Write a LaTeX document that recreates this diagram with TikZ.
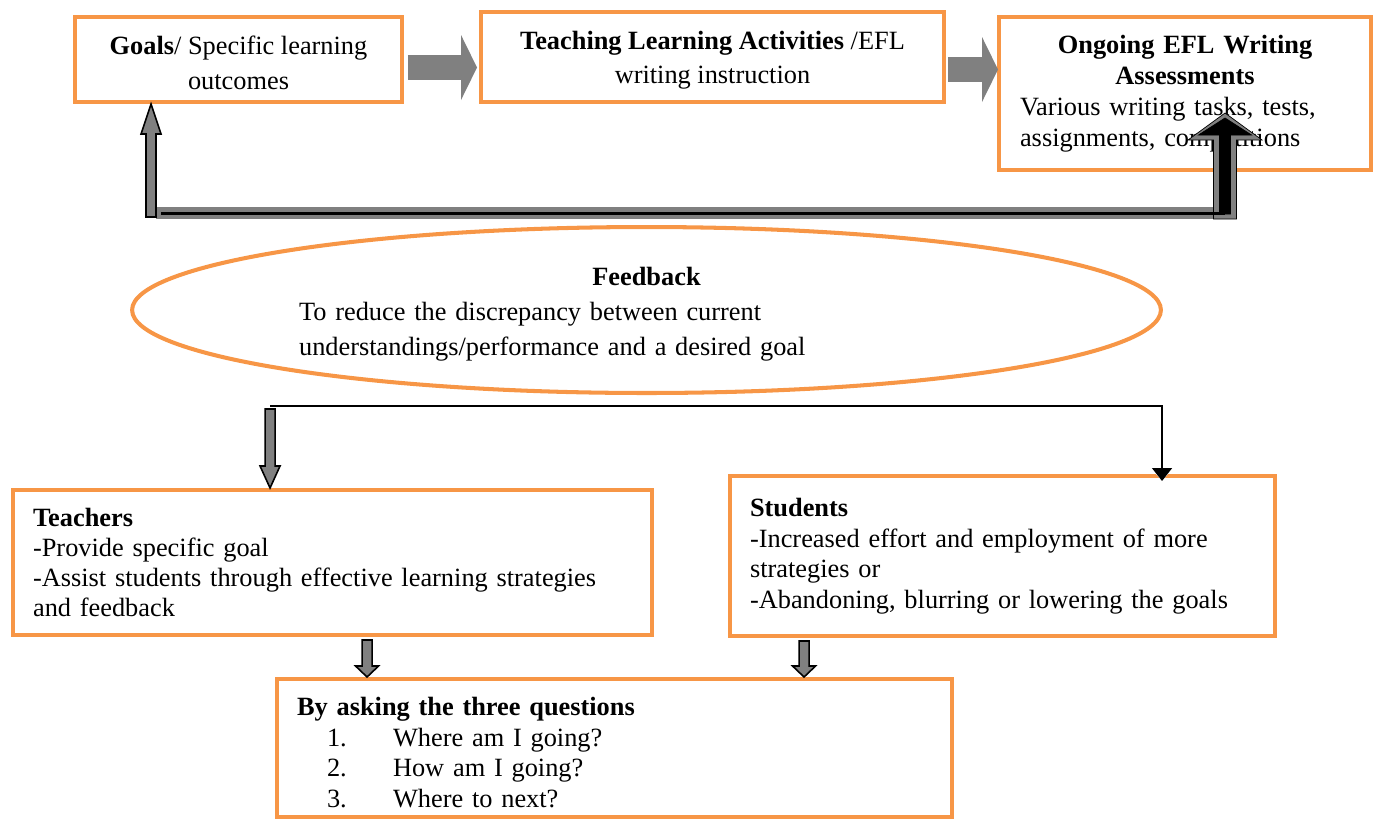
\documentclass[tikz,border=0pt]{standalone}
\usepackage{fontspec}
\setmainfont{Liberation Serif}
\usetikzlibrary{arrows.meta,calc,shapes.geometric}
\definecolor{BoxOrange}{RGB}{247,150,70}
\definecolor{ArrowGray}{RGB}{128,128,128}

\newcommand{\blockarrow}[6]{%
  \draw[#1] ($(#2)+(-#4,0)$) -- ($(#3)+(-#4,{-1*(#6)})$) -- ($(#3)+(-#5,{-1*(#6)})$) -- (#3)
    -- ($(#3)+(#5,{-1*(#6)})$) -- ($(#3)+(#4,{-1*(#6)})$) -- ($(#2)+(#4,0)$) -- cycle;}
\newcommand{\qitem}[2]{\hspace*{0.6cm}\makebox[1.32cm][l]{#1}#2}

\begin{document}
\begin{tikzpicture}[x=0.02cm, y=-0.02cm, font=\fontsize{15pt}{17pt}\selectfont,
    stagebox/.style={draw=BoxOrange, line width=2.3pt, fill=white, inner sep=0pt},
    flowarrow/.style={ArrowGray, line width=14.2pt, -{Triangle[length=0.32cm, width=1.3cm, line width=0pt]}},
    outlined/.style={fill=ArrowGray, draw=black, line width=0.9pt}]
  \useasboundingbox (0,0) rectangle (1382,819);

  \node[stagebox, minimum width=6.54cm, minimum height=1.7cm, align=center,
    font=\fontsize{15pt}{19.8pt}\selectfont] (goals) at (238.5,59.5)
    {\rule{0pt}{14pt}\textbf{Goals}/ Specific learning\\ outcomes};
  \node[stagebox, minimum width=9.26cm, minimum height=1.8cm, align=center,
    font=\fontsize{15pt}{19.3pt}\selectfont] (tla) at (712.5,57)
    {\rule{0pt}{14pt}\textbf{Teaching Learning Activities} /EFL\\ writing instruction};
  \node[stagebox, minimum width=7.44cm, minimum height=3.06cm, text width=6.6cm, align=left,
    font=\fontsize{15pt}{17.6pt}\selectfont] (assess) at (1185,93.5)
    {{\centering\textbf{Ongoing EFL Writing}\\ \textbf{Assessments}\par}Various writing tasks, tests,\\ assignments, competitions};
  \node[ellipse, draw=BoxOrange, line width=2.3pt, minimum width=20.58cm, minimum height=3.32cm,
    inner sep=0pt, text width=13.9cm, align=left, font=\fontsize{15pt}{19.8pt}\selectfont] (fb) at (646.5,310)
    {{\centering\rule{0pt}{15.5pt}\textbf{Feedback}\par}To reduce the discrepancy between current\\ understandings/performance and a desired goal};
  \node[stagebox, minimum width=12.78cm, minimum height=2.9cm, text width=11.98cm, align=left] (teach) at (332.5,562.5)
    {\textbf{Teachers}\\ -Provide specific goal\\ -Assist students through effective learning strategies\\ and feedback};
  \node[stagebox, minimum width=10.9cm, minimum height=3.2cm, text width=10.1cm, align=left,
    font=\fontsize{15pt}{17.4pt}\selectfont] (stud) at (1002.5,556)
    {\textbf{Students}\\ -Increased effort and employment of more\\ strategies or\\ -Abandoning, blurring or lowering the goals};
  \node[stagebox, minimum width=13.5cm, minimum height=2.76cm, text width=12.7cm, align=left,
    font=\fontsize{15pt}{17.4pt}\selectfont] (quest) at (614.5,748)
    {\rule{0pt}{15.5pt}\textbf{By asking the three questions}\\ \qitem{1.}{Where am I going?}\\ \qitem{2.}{How am I going?}\\ \qitem{3.}{Where to next?}};

  \draw[flowarrow] ($(goals.east)+(4,8)$) -- ($(tla.west)+(-2,10.5)$);
  \draw[flowarrow] ($(tla.east)+(2,12.5)$) -- ($(assess.west)+(1,-24)$);

  % loop from the assessments back to the goals
  \coordinate (g1) at ($(goals.south west)+(78,0)$);
  \coordinate (a1) at ($(assess.north west)+(228,98)$);
  \coordinate (a3) at ($(a1)+(0,5)$);
  \coordinate (lp) at ($(g1)+(0,109)$);
  \coordinate (g0) at ($(lp)+(0,4)$);
  \coordinate (a0) at ($(lp -| a1)+(0,6)$);
  \coordinate (a2) at ($(lp -| a1)+(0,1)$);
  \draw[ArrowGray, line width=6.8pt] ($(lp)+(5,0)$) -- (lp -| a1);
  \blockarrow{outlined}{g0}{g1}{5}{10}{-30}
  \blockarrow{fill=ArrowGray}{a0}{a1}{11.5}{37}{-27}
  \draw[line width=1.7pt] ($(lp)+(10,0)$) -- (lp -| a1);
  \blockarrow{fill=black}{a2}{a3}{5.5}{26.5}{-17}

  % split of the feedback
  \coordinate (fork) at ($(fb.south)+(0,11)$);
  \coordinate (t1) at ($(teach.north west)+(259,0)$);
  \coordinate (t0) at ($(fork -| t1)+(0,3)$);
  \coordinate (s1) at ($(stud.north west)+(434,7)$);
  \draw[white, line width=2.5pt, -{Triangle[length=0.3cm, width=0.5cm]}] ($(s1)+(0,-20)$) -- (s1);
  \draw[line width=0.85pt, -{Triangle[length=0.26cm, width=0.4cm]}] (fork -| t1) -| (s1);
  \blockarrow{outlined}{t0}{t1}{5}{10}{22}

  \coordinate (q1) at ($(quest.north west)+(92,0)$);
  \coordinate (q2) at ($(quest.north west)+(529,0)$);
  \coordinate (q1s) at ($(q1 |- teach.south)+(0,3)$);
  \coordinate (q2s) at ($(q2 |- stud.south)+(0,3)$);
  \blockarrow{outlined}{q1s}{q1}{5}{11.5}{11}
  \blockarrow{outlined}{q2s}{q2}{5}{11.5}{11}
\end{tikzpicture}
\end{document}
